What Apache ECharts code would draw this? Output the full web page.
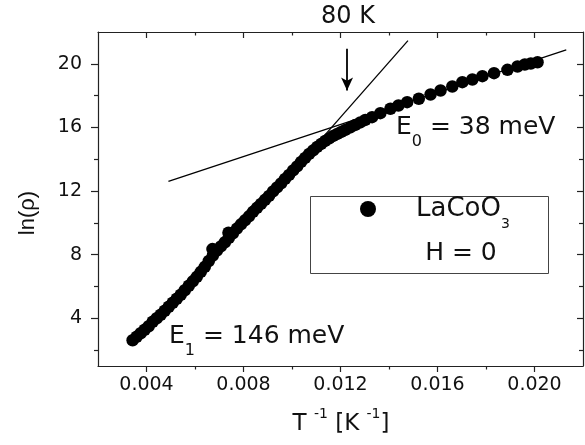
<!DOCTYPE html>
<html>
<head>
<meta charset="utf-8">
<script src="https://cdn.jsdelivr.net/npm/echarts@6/dist/echarts.min.js"></script>
<style>html,body{margin:0;padding:0;background:#fff}#c{width:585px;height:445px}</style>
</head>
<body>
<div id="c"></div>
<script>
// measured data: T^-1 [K^-1] and ln(rho)
var invT = [0.003427,0.003593,0.003758,0.003923,0.004089,0.004254,0.00442,0.004585,0.004751,0.004916,
0.005082,0.005247,0.005413,0.005578,0.005744,0.005909,0.006074,0.00624,0.006405,0.006571,
0.006736,0.006902,0.007067,0.007233,0.007398,0.007564,0.007729,0.007895,0.00806,0.008226,
0.008391,0.008556,0.008722,0.008887,0.009053,0.009218,0.009384,0.009549,0.009715,0.00988,
0.010046,0.010211,0.010376,0.010542,0.010707,0.010873,0.011038,0.011204,0.011369,0.011535,
0.0117,0.011866,0.012031,0.012197,0.012403,0.01261,0.012817,0.013024,0.013301,0.013644,
0.014058,0.014389,0.014749,0.015229,0.015713,0.016126,0.01661,0.017024,0.017438,0.017851,
0.018331,0.018885,0.019299,0.019601,0.019849,0.020126,0.00672,0.00738];
var lnRho = [2.619,2.839,3.059,3.279,3.499,3.781,4.001,4.221,4.472,4.724,
4.975,5.226,5.477,5.760,6.043,6.325,6.608,6.922,7.236,7.60,
7.95,8.25,8.52,8.78,9.06,9.34,9.64,9.906,10.157,10.408,
10.691,10.942,11.193,11.445,11.696,11.979,12.230,12.481,12.764,13.015,
13.298,13.549,13.832,14.083,14.334,14.554,14.774,14.962,15.151,15.308,
15.465,15.590,15.716,15.842,15.999,16.156,16.313,16.470,16.646,16.897,
17.173,17.381,17.588,17.802,18.072,18.323,18.574,18.844,19.014,19.221,
19.410,19.623,19.830,19.956,20.019,20.100,8.35,9.38];
// fit lines
var e1X = [0.010736, 0.014782];
var e1Y = [14.447, 21.46];
var e0X = [0.004904, 0.021309];
var e0Y = [12.607, 20.879];
// arrow marking 80 K
var arrowX = 0.01227;
var arrowY = [20.94, 18.32];
// ticks
var xMajor = [0.004, 0.008, 0.012, 0.016, 0.020];
var xMinor = [0.006, 0.010, 0.014, 0.018];
var yMajor = [4, 8, 12, 16, 20];
var yMinor = [2, 6, 10, 14, 18];

var FONT = 'DejaVu Sans';
function pairs(xs, ys){ return xs.map(function(x,i){ return [x, ys[i]]; }); }

var axisColor = '#222';
function xAx(pos, ticks, len, inside, showLine, showLabel){
  return {type:'value', position:pos, min:0.002, max:0.022, gridIndex:0,
    axisLine:{show:showLine, onZero:false, lineStyle:{color:axisColor, width:1.2}},
    axisTick:{show:true, inside:inside, length:len, customValues:ticks, lineStyle:{color:axisColor, width:1.2}},
    axisLabel:{show:showLabel, customValues:ticks, margin:10, color:'#111', fontFamily:FONT, fontSize:19,
      formatter:function(v){ return v.toFixed(3); }},
    splitLine:{show:false}};
}
function yAx(pos, ticks, len, inside, showLine, showLabel){
  return {type:'value', position:pos, min:1, max:22, gridIndex:0,
    axisLine:{show:showLine, onZero:false, lineStyle:{color:axisColor, width:1.2}},
    axisTick:{show:true, inside:inside, length:len, customValues:ticks, lineStyle:{color:axisColor, width:1.2}},
    axisLabel:{show:showLabel, customValues:ticks, margin:16, color:'#111', fontFamily:FONT, fontSize:19},
    splitLine:{show:false}};
}

var chart = echarts.init(document.getElementById('c'), null, {renderer:'canvas'});
chart.setOption({
  animation:false,
  backgroundColor:'#fff',
  grid:{left:98, right:2, top:32, bottom:79},
  xAxis:[
    xAx('bottom', xMajor, 6, false, true, true),
    xAx('bottom', xMinor, 3.5, false, false, false),
    xAx('top', xMajor, 6, true, true, false),
    xAx('top', xMinor, 3.5, true, false, false)
  ],
  yAxis:[
    yAx('left', yMajor, 7, false, true, true),
    yAx('left', yMinor, 4, false, false, false),
    yAx('right', yMajor, 6, true, true, false),
    yAx('right', yMinor, 4, true, false, false)
  ],
  legend:{
    data:['LaCoO3'], left:360, top:196, padding:0, itemWidth:16, itemHeight:16,
    icon:'circle', itemStyle:{color:'#000', opacity:1},
    formatter:function(){ return '{m|LaCoO}{s|3}'; },
    textStyle:{padding:[0,0,0,35], rich:{
      m:{fontFamily:FONT, fontSize:26, color:'#111', lineHeight:44},
      s:{fontFamily:FONT, fontSize:14, color:'#111', lineHeight:16, verticalAlign:'bottom'}
    }}
  },
  series:[
    {type:'line', data:pairs(e1X, e1Y), symbol:'none', lineStyle:{color:'#000', width:1.3}, z:2, silent:true},
    {type:'line', data:pairs(e0X, e0Y), symbol:'none', lineStyle:{color:'#000', width:1.3}, z:2, silent:true,
      markLine:{silent:true, symbol:['none','arrow'], symbolSize:[9,13], label:{show:false},
        lineStyle:{color:'#000', width:1.8, type:'solid'},
        data:[[{coord:[arrowX, arrowY[0]]},{coord:[arrowX, arrowY[1]]}]]}},
    {name:'LaCoO3', type:'scatter', data:pairs(invT, lnRho), symbol:'circle', symbolSize:12.5,
      itemStyle:{color:'#000', opacity:1}, z:3}
  ],
  graphic:[
    {type:'rect', shape:{x:310.5, y:196.5, width:238, height:77}, style:{fill:null, stroke:'#444', lineWidth:1}, z:1},
    {type:'text', x:461, y:253, style:{text:'H = 0', fontFamily:FONT, fontSize:25, fill:'#111', align:'center', verticalAlign:'middle'}},
    {type:'text', x:348, y:17, style:{text:'80 K', fontFamily:FONT, fontSize:24, fill:'#111', align:'center', verticalAlign:'middle'}},
    {type:'text', x:396, y:127.5, style:{text:'{m|E}{s|0}{m| = 38 meV}', align:'left', verticalAlign:'middle',
      rich:{m:{fontFamily:FONT, fontSize:25, fill:'#111', lineHeight:44},
            s:{fontFamily:FONT, fontSize:16, fill:'#111', lineHeight:17, verticalAlign:'bottom'}}}},
    {type:'text', x:169, y:336.7, style:{text:'{m|E}{s|1}{m| = 146 meV}', align:'left', verticalAlign:'middle',
      rich:{m:{fontFamily:FONT, fontSize:25, fill:'#111', lineHeight:44},
            s:{fontFamily:FONT, fontSize:16, fill:'#111', lineHeight:17, verticalAlign:'bottom'}}}},
    {type:'text', x:341, y:424, style:{text:'{m|T }{p|-1}{m| [K }{p|-1}{m|]}', align:'center', verticalAlign:'middle',
      rich:{m:{fontFamily:FONT, fontSize:23, fill:'#111', lineHeight:34},
            p:{fontFamily:FONT, fontSize:14, fill:'#111', lineHeight:14, verticalAlign:'top'}}}},
    {type:'text', x:28, y:213, rotation:Math.PI/2, style:{text:'ln(ρ)', fontFamily:'Liberation Sans', fontSize:22, fill:'#111', align:'center', verticalAlign:'middle'}}
  ]
});
</script>
</body>
</html>
